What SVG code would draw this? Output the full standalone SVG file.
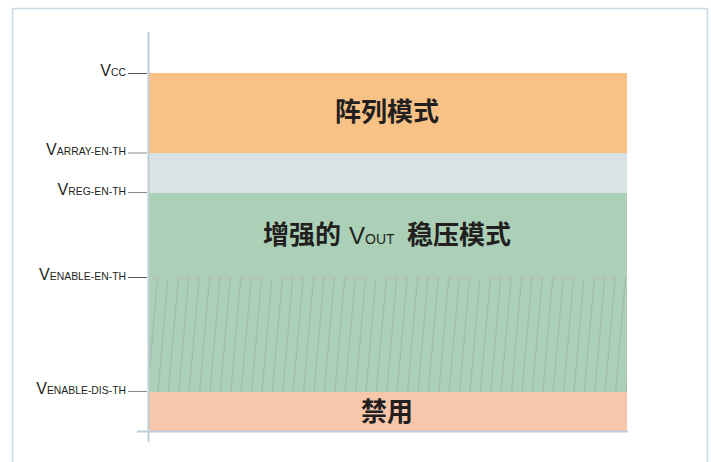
<svg xmlns="http://www.w3.org/2000/svg" width="711" height="462" viewBox="0 0 711 462">
<style>
.lbl{font-family:"Liberation Sans",Arial,sans-serif;fill:#231F20;font-size:16px}
.sub{font-size:10.4px}
.zone{font-family:"Noto Sans CJK SC","Liberation Sans",sans-serif;font-weight:bold;fill:#231F20;font-size:26px}
.tick{stroke:#555;stroke-width:1}
.tick2{stroke:#8a8a8a;stroke-width:1}
.axis{stroke:#BECED6;stroke-width:2;fill:none}
</style>
<defs>
<pattern id="hatch" patternUnits="userSpaceOnUse" width="10.4" height="16" patternTransform="skewX(-5)">
<line x1="5" y1="0" x2="5" y2="15" stroke="#9FA8A2" stroke-width="0.8"/>
</pattern>
</defs>
<rect x="12.5" y="8.5" width="695" height="470" fill="#fff" stroke="#CADAE2" stroke-width="1.5"/>
<g id="bands">
<g id="array-mode"><rect x="149" y="73" width="478" height="80" fill="#F8C287"/>
<text class="zone" x="387" y="121" text-anchor="middle">阵列模式</text></g>
<g id="transition"><rect x="149" y="153" width="478" height="40" fill="#DAE2E4"/></g>
<g id="vout-mode"><rect x="149" y="193" width="478" height="199" fill="#ABD0B7"/>
<rect x="150" y="278" width="477" height="113" fill="url(#hatch)"/>
<line x1="149" y1="277.5" x2="627" y2="277.5" stroke="#B8C4BC" stroke-width="1"/>
<text class="zone" y="244"><tspan x="263">增强的</tspan><tspan font-family="Liberation Sans,Arial,sans-serif" font-weight="normal" font-size="24" x="349">V</tspan><tspan font-family="Liberation Sans,Arial,sans-serif" font-weight="normal" font-size="14">OUT</tspan><tspan x="407">稳压模式</tspan></text></g>
<g id="disabled"><rect x="149" y="392" width="478" height="39" fill="#F8C6AB"/>
<text class="zone" x="387" y="421" text-anchor="middle">禁用</text></g>
</g>
<g id="axes">
<line class="axis" x1="148.5" y1="32" x2="148.5" y2="442"/>
<line class="axis" x1="137" y1="431.5" x2="628" y2="431.5"/>
</g>
<g id="connectors">
<line class="tick" x1="128" y1="73.5" x2="147" y2="73.5"/>
<line class="tick2" x1="128" y1="153" x2="147" y2="153"/>
<line class="tick2" x1="128" y1="192.5" x2="147" y2="192.5"/>
<line class="tick" x1="128" y1="277.5" x2="147" y2="277.5"/>
<line class="tick2" x1="128" y1="391.5" x2="147" y2="391.5"/>
</g>
<g id="labels">
<text class="lbl" x="126" y="75.5" text-anchor="end">V<tspan class="sub">CC</tspan></text>
<text class="lbl" x="126" y="155" text-anchor="end">V<tspan class="sub">ARRAY-EN-TH</tspan></text>
<text class="lbl" x="126" y="194.5" text-anchor="end">V<tspan class="sub">REG-EN-TH</tspan></text>
<text class="lbl" x="126" y="279.5" text-anchor="end">V<tspan class="sub">ENABLE-EN-TH</tspan></text>
<text class="lbl" x="126" y="393.5" text-anchor="end">V<tspan class="sub">ENABLE-DIS-TH</tspan></text>
</g>
</svg>
